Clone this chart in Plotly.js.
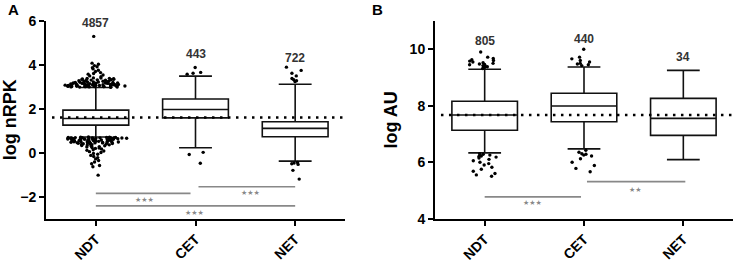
<!DOCTYPE html>
<html>
<head>
<meta charset="utf-8">
<script src="https://cdn.plot.ly/plotly-3.0.1.min.js"></script>
<style>html,body{margin:0;padding:0;background:#fff;}#chart{width:737px;height:266px;}</style>
</head>
<body>
<div id="chart"></div>
<script>
// ---- data ----
var categories = ['NDT', 'CET', 'NET'];

// Panel A: log nRPK
var aQ1 = [1.26, 1.59, 0.73];
var aMedian = [1.56, 1.97, 1.11];
var aQ3 = [1.94, 2.45, 1.41];
var aLowerWhisker = [0.72, 0.23, -0.38];
var aUpperWhisker = [2.97, 3.49, 3.12];
var aCounts = ['4857', '443', '722'];
var aReference = 1.61;
// NDT outliers, grouped by how densely they are packed in the picture
var aNdtUpperBand = [
  2.98, 2.99, 2.99, 3.00, 3.00, 3.00, 3.01, 3.01, 3.01, 3.02, 3.02, 3.02, 3.03, 3.03, 3.03, 3.04,
  3.04, 3.04, 3.05, 3.05, 3.05, 3.06, 3.06, 3.06, 3.07, 3.07, 3.07, 3.08, 3.08, 3.08, 3.09, 3.09,
  3.09, 3.10, 3.10, 3.10, 3.11, 3.11, 3.11, 3.12, 3.12, 3.12, 3.13, 3.13, 3.14, 3.14, 3.15, 3.15,
  3.16, 3.16, 3.17, 3.17, 3.18, 3.18, 3.19, 3.20, 3.20, 3.21, 3.22, 3.22, 3.23, 3.24, 3.25, 3.26,
  3.27, 3.28, 3.29, 3.30, 3.31, 3.32, 3.33, 3.34, 3.35, 3.36, 3.37, 3.38, 3.39, 3.40, 3.41
];
var aNdtUpperSparse = [3.46, 3.50, 3.54, 3.58, 3.61, 3.65, 3.70, 3.76, 3.82, 3.87, 3.92, 3.97, 4.03, 4.08, 5.30];
var aNdtLowerBand = [
  0.72, 0.71, 0.71, 0.70, 0.70, 0.70, 0.69, 0.69, 0.69, 0.68, 0.68, 0.68, 0.67, 0.67, 0.67, 0.66,
  0.66, 0.66, 0.65, 0.65, 0.65, 0.64, 0.64, 0.64, 0.63, 0.63, 0.62, 0.62, 0.62, 0.61, 0.61, 0.60,
  0.60, 0.59, 0.59, 0.58, 0.58, 0.57, 0.57, 0.56, 0.56, 0.55, 0.55, 0.54, 0.54, 0.53, 0.53, 0.52,
  0.52, 0.51, 0.51, 0.50, 0.50, 0.49, 0.49, 0.48, 0.48, 0.47, 0.47, 0.46, 0.46, 0.45, 0.45, 0.44,
  0.44, 0.43, 0.42, 0.41, 0.40
];
var aNdtLowerWedge = [0.39, 0.38, 0.37, 0.36, 0.35, 0.33, 0.32, 0.30, 0.28, 0.26, 0.24,
  0.22, 0.20, 0.17, 0.14, 0.11, 0.08, 0.05, 0.01];
var aNdtLowerTail = [-0.03, -0.07, -0.12, -0.17, -0.22, -0.28, -0.35, -0.42, -0.50, -0.58, -0.64, -1.02];
var aCetOutliers = [3.58, 3.62, 3.66, 3.88, 0.02, -0.08, -0.48];
var aNetOutliers = [3.24, 3.28, 3.33, 3.38, 3.50, 3.62, 3.75, 3.90, -0.44, -0.47, -0.50, -0.53, -0.80, -1.20];

// Panel B: log AU
var bQ1 = [7.13, 7.43, 6.95];
var bMedian = [7.67, 7.99, 7.55];
var bQ3 = [8.16, 8.44, 8.26];
var bLowerWhisker = [6.33, 6.47, 6.09];
var bUpperWhisker = [9.29, 9.37, 9.25];
var bCounts = ['805', '440', '34'];
var bReference = 7.67;
var bNdtOutliers = [
  9.32, 9.35, 9.38, 9.40, 9.42, 9.45, 9.46, 9.48, 9.50, 9.52, 9.55, 9.58, 9.60, 9.63, 9.67, 9.72, 9.90,
  6.30, 6.28, 6.25, 6.22, 6.20, 6.18, 6.15, 6.10, 6.05, 6.00, 5.95, 5.90, 5.82, 5.75, 5.68, 5.60, 5.55, 5.50
];
var bCetOutliers = [9.42, 9.45, 9.48, 9.50, 9.55, 9.60, 9.66, 9.72, 10.00,
  6.42, 6.35, 6.30, 6.28, 6.25, 6.22, 6.12, 6.00, 5.88, 5.78, 5.66];

// ---- build ----
function outlierTrace(vals, catIndex, jitter, xa, ya) {
  return {
    type: 'box', x: vals.map(function () { return categories[catIndex]; }), y: vals,
    xaxis: xa, yaxis: ya,
    boxpoints: 'all', jitter: jitter, pointpos: 0, width: 0.66,
    fillcolor: 'rgba(0,0,0,0)', line: {width: 0, color: 'rgba(0,0,0,0)'},
    marker: {color: '#000', size: 3.4}, hoverinfo: 'y', showlegend: false
  };
}
function boxTrace(q1, med, q3, lo, hi, xa, ya) {
  return {
    type: 'box', x: categories, q1: q1, median: med, q3: q3,
    lowerfence: lo, upperfence: hi, xaxis: xa, yaxis: ya,
    boxpoints: false, width: 0.66, whiskerwidth: 0.5,
    fillcolor: '#fff', line: {color: '#111', width: 1.6}, showlegend: false
  };
}

var traces = [
  boxTrace(aQ1, aMedian, aQ3, aLowerWhisker, aUpperWhisker, 'x', 'y'),
  outlierTrace(aNdtUpperBand, 0, 1.0, 'x', 'y'),
  outlierTrace(aNdtUpperSparse, 0, 0.3, 'x', 'y'),
  outlierTrace(aNdtLowerBand, 0, 1.0, 'x', 'y'),
  outlierTrace(aNdtLowerWedge, 0, 0.5, 'x', 'y'),
  outlierTrace(aNdtLowerTail, 0, 0.22, 'x', 'y'),
  outlierTrace(aCetOutliers, 1, 0.3, 'x', 'y'),
  outlierTrace(aNetOutliers, 2, 0.3, 'x', 'y'),
  boxTrace(bQ1, bMedian, bQ3, bLowerWhisker, bUpperWhisker, 'x2', 'y2'),
  outlierTrace(bNdtOutliers, 0, 0.55, 'x2', 'y2'),
  outlierTrace(bCetOutliers, 1, 0.45, 'x2', 'y2')
];

var F = 'Liberation Sans, Arial, sans-serif';
var yDom = [0.178, 0.921];
function xAxis(dom, anchor) {
  return {
    domain: dom, anchor: anchor, type: 'category', range: [-0.5, 2.5],
    showline: true, linecolor: '#000', linewidth: 2, mirror: false,
    ticks: 'outside', ticklen: 5, tickwidth: 2, tickcolor: '#000',
    tickangle: -45, tickfont: {family: F, size: 14, color: '#000', weight: 'bold'},
    showgrid: false, zeroline: false, fixedrange: true
  };
}
function yAxis(range, tv, anchor, title) {
  return {
    domain: yDom, anchor: anchor, range: range, tickvals: tv,
    showline: true, linecolor: '#000', linewidth: 2,
    ticks: 'outside', ticklen: 5, tickwidth: 2, tickcolor: '#000',
    tickfont: {family: F, size: 14, color: '#000', weight: 'bold'},
    title: {text: title, font: {family: F, size: 18, color: '#000', weight: 'bold'}, standoff: 7},
    showgrid: false, zeroline: false, fixedrange: true
  };
}

var annotations = [];
function countLabels(counts, ys, xr, yr) {
  counts.forEach(function (c, i) {
    annotations.push({x: categories[i], y: ys[i], xref: xr, yref: yr, text: c, showarrow: false,
      font: {family: F, size: 12, color: '#333', weight: 'bold'}, yanchor: 'middle'});
  });
}
countLabels(aCounts, [5.9, 4.5, 4.33], 'x', 'y');
countLabels(bCounts, [10.29, 10.35, 9.74], 'x2', 'y2');

function star(x, y, t, xr, yr) {
  annotations.push({x: x, y: y, xref: xr, yref: yr, text: t, showarrow: false,
    font: {family: 'DejaVu Sans, sans-serif', size: 7, color: '#888'}, yanchor: 'middle'});
}
star(0.49, -2.15, '★★★', 'x', 'y');
star(1.55, -1.82, '★★★', 'x', 'y');
star(0.99, -2.72, '★★★', 'x', 'y');
star(0.48, 4.54, '★★★', 'x2', 'y2');
star(1.52, 5.02, '★★', 'x2', 'y2');

annotations.push({x: 13 / 737, y: 1 - 9 / 266, xref: 'paper', yref: 'paper', text: 'A', showarrow: false,
  font: {family: F, size: 15, color: '#000', weight: 'bold'}, xanchor: 'center', yanchor: 'middle'});
annotations.push({x: 377 / 737, y: 1 - 9 / 266, xref: 'paper', yref: 'paper', text: 'B', showarrow: false,
  font: {family: F, size: 15, color: '#000', weight: 'bold'}, xanchor: 'center', yanchor: 'middle'});

function sigLine(x0, x1, y, xr, yr) {
  return {type: 'line', xref: xr, yref: yr, x0: x0, x1: x1, y0: y, y1: y,
    line: {color: '#888', width: 1.6}};
}
var shapes = [
  {type: 'line', xref: 'x domain', yref: 'y', x0: 0.02, x1: 1, y0: aReference, y1: aReference,
    line: {color: '#000', width: 2.5, dash: '2.5px,5.5px'}, layer: 'above'},
  {type: 'line', xref: 'x2 domain', yref: 'y2', x0: 0.02, x1: 1, y0: bReference, y1: bReference,
    line: {color: '#000', width: 2.5, dash: '2.5px,5.5px'}, layer: 'above'},
  sigLine(0, 0.95, -1.85, 'x', 'y'),
  sigLine(1.03, 2.0, -1.55, 'x', 'y'),
  sigLine(0, 2.0, -2.42, 'x', 'y'),
  sigLine(0, 0.97, 4.77, 'x2', 'y2'),
  sigLine(1.03, 2.02, 5.31, 'x2', 'y2')
];

var layout = {
  width: 737, height: 266,
  margin: {l: 0, r: 0, t: 0, b: 0},
  paper_bgcolor: '#fff', plot_bgcolor: '#fff',
  showlegend: false, boxmode: 'overlay',
  xaxis: xAxis([46 / 737, 345 / 737], 'y'),
  yaxis: yAxis([-3, 6], [-2, 0, 2, 4, 6], 'x', 'log nRPK'),
  xaxis2: xAxis([435 / 737, 733 / 737], 'y2'),
  yaxis2: yAxis([4, 11], [4, 6, 8, 10], 'x2', 'log AU'),
  annotations: annotations,
  shapes: shapes,
  font: {family: F}
};

Plotly.newPlot('chart', traces, layout, {staticPlot: true, displayModeBar: false});
</script>
</body>
</html>
